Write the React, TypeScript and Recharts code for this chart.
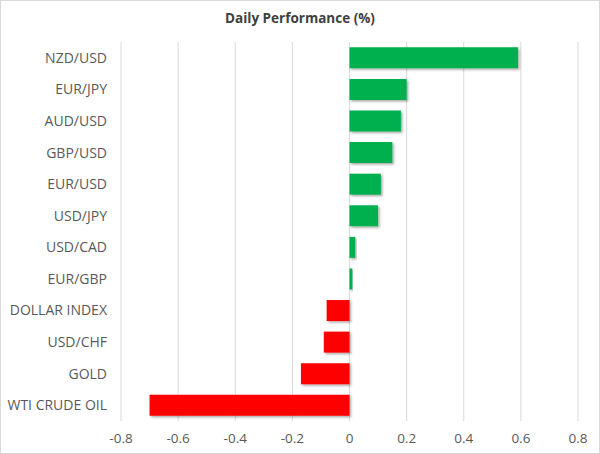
import { Bar, BarChart, CartesianGrid, Cell, XAxis, YAxis } from "recharts";

const categories = [
  "NZD/USD",
  "EUR/JPY",
  "AUD/USD",
  "GBP/USD",
  "EUR/USD",
  "USD/JPY",
  "USD/CAD",
  "EUR/GBP",
  "DOLLAR INDEX",
  "USD/CHF",
  "GOLD",
  "WTI CRUDE OIL"
];
const changes = [0.59, 0.2, 0.18, 0.15, 0.11, 0.1, 0.02, 0.01, -0.08, -0.09, -0.17, -0.7];
const xTicks = [-0.8, -0.6, -0.4, -0.2, 0, 0.2, 0.4, 0.6, 0.8];

const data = categories.map((name, i) => ({ name, value: changes[i] }));

const font = "'Open Sans', sans-serif";
const labelColor = "#595959";

export default function App() {
  return (
    <div
      style={{
        position: "absolute",
        left: 0,
        top: 0,
        width: 600,
        height: 454,
        boxSizing: "border-box",
        border: "1px solid #d9d9d9",
        background: "#fff",
        fontFamily: font
      }}
    >
      <div
        style={{
          position: "absolute",
          top: 8,
          width: "100%",
          textAlign: "center",
          fontSize: 13.5,
          fontWeight: 700,
          color: "#404040"
        }}
      >
        Daily Performance (%)
      </div>
      <BarChart
        width={598}
        height={452}
        data={data}
        layout="vertical"
        barCategoryGap="17%"
        margin={{ top: 41, right: 21, bottom: 7, left: 0 }}
      >
        <defs>
          <filter id="barShadow" x="-20%" y="-20%" width="140%" height="160%">
            <feDropShadow dx="1.5" dy="1.5" stdDeviation="1" floodColor="#000" floodOpacity="0.35" />
          </filter>
        </defs>
        <CartesianGrid stroke="#d9d9d9" horizontal={false} />
        <XAxis
          type="number"
          domain={[-0.8, 0.8]}
          ticks={xTicks}
          tickFormatter={(v) => String(Math.round(v * 10) / 10)}
          axisLine={false}
          tickLine={false}
          tickSize={0}
          tickMargin={12}
          height={25}
          tick={{ fill: labelColor, fontSize: 13.5, fontFamily: font }}
        />
        <YAxis
          type="category"
          dataKey="name"
          width={120}
          axisLine={false}
          tickLine={false}
          tickSize={0}
          tickMargin={14}
          interval={0}
          tick={{ fill: labelColor, fontSize: 14, fontFamily: font }}
        />
        <Bar dataKey="value" isAnimationActive={false} filter="url(#barShadow)">
          {data.map((d) => (
            <Cell key={d.name} fill={d.value >= 0 ? "#00b050" : "#ff0000"} />
          ))}
        </Bar>
      </BarChart>
    </div>
  );
}
